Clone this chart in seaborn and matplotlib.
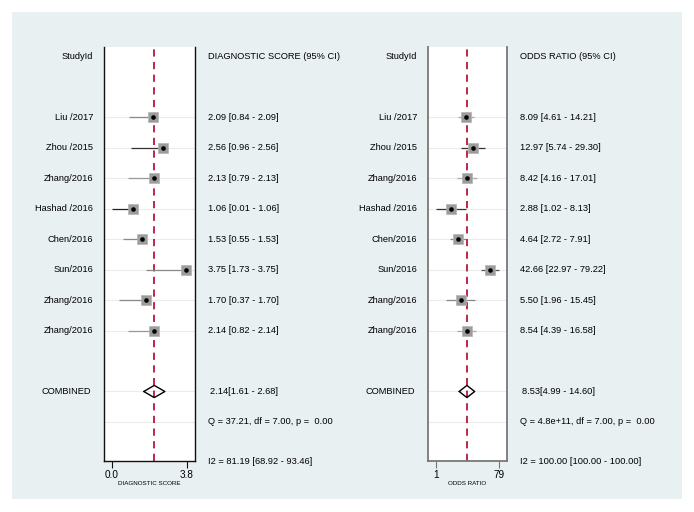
import matplotlib
matplotlib.use("Agg")
import matplotlib.pyplot as plt
import matplotlib.transforms as mtransforms
from matplotlib.patches import Rectangle
import seaborn as sns

sns.set_theme(style="white")
plt.rcParams["font.family"] = ["Liberation Sans", "DejaVu Sans"]
plt.rcParams["text.color"] = "black"
plt.rcParams["xtick.color"] = "black"
plt.rcParams["axes.labelcolor"] = "black"

# data
studies = ["Liu /2017", "Zhou /2015", "Zhang/2016", "Hashad /2016",
           "Chen/2016", "Sun/2016", "Zhang/2016", "Zhang/2016"]
ds_est = [2.09, 2.56, 2.13, 1.06, 1.53, 3.75, 1.70, 2.14]
ds_lo = [0.84, 0.96, 0.79, 0.01, 0.55, 1.73, 0.37, 0.82]
ds_hi = [2.09, 2.56, 2.13, 1.06, 1.53, 3.75, 1.70, 2.14]
or_est = [8.09, 12.97, 8.42, 2.88, 4.64, 42.66, 5.50, 8.54]
or_lo = [4.61, 5.74, 4.16, 1.02, 2.72, 22.97, 1.96, 4.39]
or_hi = [14.21, 29.30, 17.01, 8.13, 7.91, 79.22, 15.45, 16.58]
ds_comb = (2.14, 1.61, 2.68)
or_comb = (8.53, 4.99, 14.60)
ds_q = "Q = 37.21, df = 7.00, p =  0.00"
ds_i2 = "I2 = 81.19 [68.92 - 93.46]"
or_q = "Q = 4.8e+11, df = 7.00, p =  0.00"
or_i2 = "I2 = 100.00 [100.00 - 100.00]"

# styles (not data)
ds_line_col = ["#888888", "#333333", "#999999", "#222222", "#888888", "#888888", "#888888", "#999999"]
or_line_col = ["#aaaaaa", "#333333", "#aaaaaa", "#333333", "#888888", "#555555", "#888888", "#aaaaaa"]

W, H = 694, 512
fig = plt.figure(figsize=(W / 100, H / 100), dpi=100)
fig.patch.set_facecolor("white")
fig.patches.append(Rectangle((12 / W, 1 - 499 / H), 670 / W, 487 / H,
                             transform=fig.transFigure, facecolor="#e9f0f2",
                             edgecolor="none", zorder=-5))

rows = list(range(2, 2 + len(studies)))
comb_row = 11
q_row = 12
i2_row = 13.3
ylim = (13.28, -0.3)
FS = 6.7


def px(x):
    return x / W


def panel(left, right, xlim, est, lo, hi, comb, line_cols, header, q, i2,
          ticks, ticklabels, xlabel, lab_x, val_x, spine_col, spine_w, logx):
    ax = fig.add_axes([px(left), 1 - 461 / H, px(right - left), (461 - 47) / H])
    ax.set_facecolor("white")
    if logx:
        ax.set_xscale("log")
    ax.set_xlim(*xlim)
    ax.set_ylim(*ylim)
    for r in rows + [comb_row, q_row]:
        ax.axhline(r, color="#ececec", lw=0.8, zorder=1)
    ax.axvline(comb[0], color="#b8163c", lw=1.3, ls=(0, (4, 3)), zorder=2)
    ax.hlines(rows, lo, hi, colors=line_cols, lw=0.9, zorder=3)
    sns.scatterplot(x=est, y=rows, marker="s", s=46, color="#9c9c9c",
                    edgecolor="#b4b4b4", linewidth=0.5, ax=ax, zorder=4)
    sns.scatterplot(x=est, y=rows, marker="o", s=11, color="black",
                    edgecolor="black", linewidth=0, ax=ax, zorder=5)
    c, cl, ch = comb
    ax.plot([cl, c, ch, c, cl], [comb_row, comb_row - 0.2, comb_row, comb_row + 0.2, comb_row],
            color="black", lw=1.0, zorder=5)
    ax.set_xlim(*xlim)
    ax.set_ylim(*ylim)
    ax.spines["top"].set_visible(False)
    for s in ["left", "right", "bottom"]:
        ax.spines[s].set_color(spine_col)
        ax.spines[s].set_linewidth(spine_w)
    ax.set_yticks([])
    ax.set_xticks(ticks)
    ax.set_xticklabels(ticklabels)
    ax.minorticks_off()
    ax.tick_params(axis="x", direction="out", length=5, width=0.8, pad=1.5,
                   labelsize=7.2, color=spine_col, labelcolor="black", bottom=True)
    ax.set_xlabel(xlabel, fontsize=4.5, labelpad=0.5)
    ax.set_ylabel("")

    tr = mtransforms.blended_transform_factory(fig.transFigure, ax.transData)
    ax.text(px(lab_x), 0, "StudyId", transform=tr, ha="right", va="center", fontsize=FS)
    ax.text(px(val_x), 0, header, transform=tr, ha="left", va="center", fontsize=FS)
    for r, name, e, l, h in zip(rows, studies, est, lo, hi):
        ax.text(px(lab_x), r, name, transform=tr, ha="right", va="center", fontsize=FS)
        ax.text(px(val_x), r, f"{e:.2f} [{l:.2f} - {h:.2f}]", transform=tr,
                ha="left", va="center", fontsize=FS)
    ax.text(px(lab_x - 2), comb_row, "COMBINED", transform=tr, ha="right", va="center", fontsize=FS)
    ax.text(px(val_x + 2), comb_row, f"{c:.2f}[{cl:.2f} - {ch:.2f}]", transform=tr,
            ha="left", va="center", fontsize=FS)
    ax.text(px(val_x), q_row, q, transform=tr, ha="left", va="center", fontsize=FS)
    ax.text(px(val_x), i2_row, i2, transform=tr, ha="left", va="center", fontsize=FS)
    return ax


panel(104, 195, (-0.405, 4.205), ds_est, ds_lo, ds_hi, ds_comb, ds_line_col,
      "DIAGNOSTIC SCORE (95% CI)", ds_q, ds_i2, [0.0, 3.8], ["0.0", "3.8"],
      "DIAGNOSTIC SCORE", 93, 208, "#111111", 1.0, False)
panel(428, 507, (0.574, 137.5), or_est, or_lo, or_hi, or_comb, or_line_col,
      "ODDS RATIO (95% CI)", or_q, or_i2, [1, 79], ["1", "79"],
      "ODDS RATIO", 417, 520, "#777777", 1.3, True)

fig.savefig("out.png", dpi=100)
